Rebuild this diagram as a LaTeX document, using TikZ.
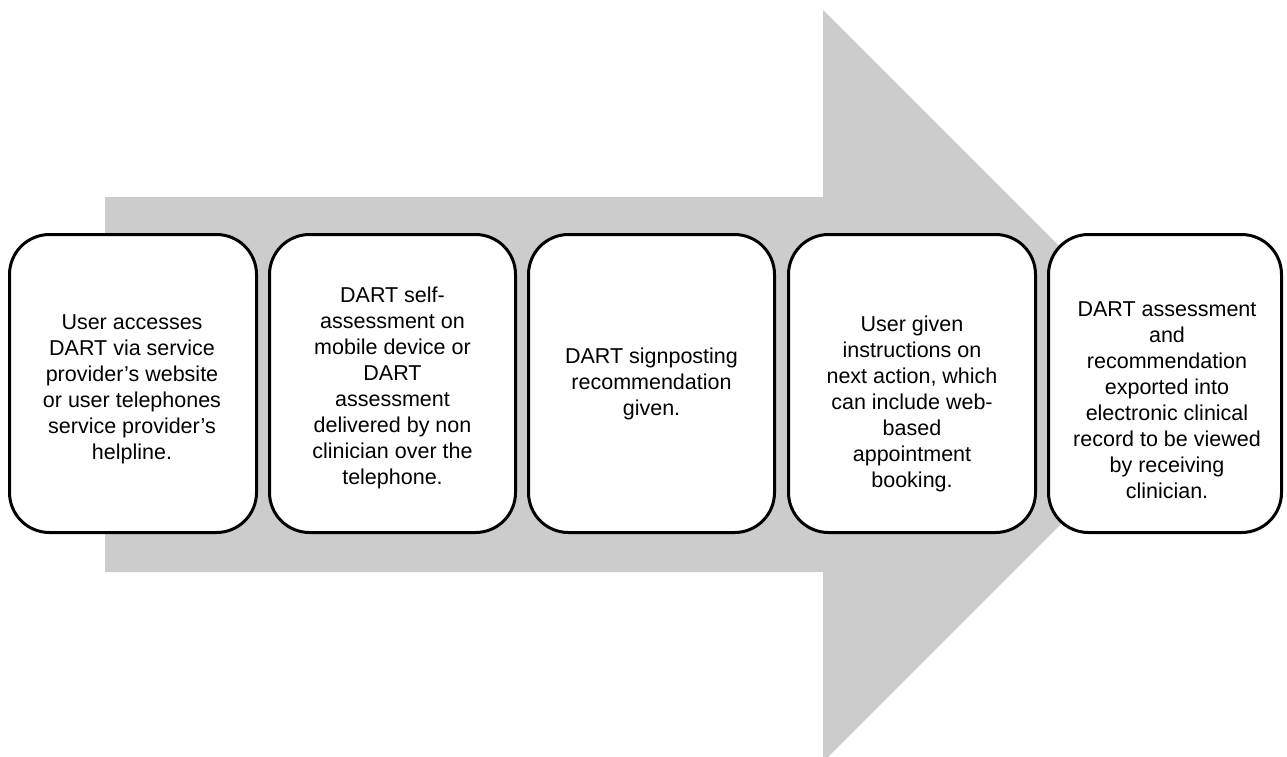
\documentclass[tikz,border=0pt]{standalone}
\usepackage{fontspec}
\setmainfont{Liberation Sans}
\definecolor{arrowgray}{RGB}{204,204,204}
\begin{document}
\begin{tikzpicture}[x=1pt,y=-1pt,
  stepcard/.style={draw=black, line width=3pt, fill=white, rounded corners=40pt,
    inner sep=0pt, minimum height=298pt},
  cardtext/.style={align=center, font=\fontsize{21.5}{26}\selectfont, inner sep=0pt}]
\useasboundingbox (0,0) rectangle (1287,756);

% large process arrow in the background
\fill[arrowgray] (105,197) -- (823,197) -- (823,10) -- (1199,386)
  -- (823,762) -- (823,572) -- (105,572) -- cycle;

% step cards
\node[stepcard, minimum width=247pt] (b1) at (133,383.5) {};
\node[stepcard, minimum width=246pt] (b2) at (392.5,383.5) {};
\node[stepcard, minimum width=246pt] (b3) at (651.5,383.5) {};
\node[stepcard, minimum width=247pt] (b4) at (912,383.5) {};
\node[stepcard, minimum width=233pt] (b5) at (1165,383.5) {};

% card texts
\node[cardtext] (t1) at (132,389) {\strut User accesses\\DART via service\\provider’s website\\or user telephones\\service provider’s\\helpline.\strut};
\node[cardtext] (t2) at (392.5,388) {\strut DART self-\\assessment on\\mobile device or\\DART\\assessment\\delivered by non\\clinician over the\\telephone.\strut};
\node[cardtext] (t3) at (651.5,384) {\strut DART signposting\\recommendation\\given.\strut};
\node[cardtext] (t4) at (912,404) {\strut User given\\instructions on\\next action, which\\can include web-\\based\\appointment\\booking.\strut};
\node[cardtext] (t5) at (1167,402) {\strut DART assessment\\and\\recommendation\\exported into\\electronic clinical\\record to be viewed\\by receiving\\clinician.\strut};
\end{tikzpicture}
\end{document}
